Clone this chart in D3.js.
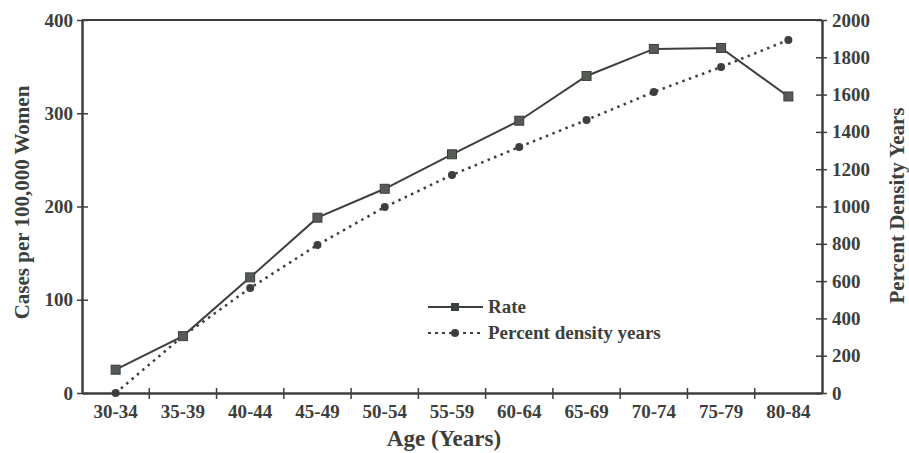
<!DOCTYPE html>
<meta charset="utf-8">
<script src="https://d3js.org/d3.v7.min.js"></script>
<style>
  body { margin: 0; background: #fff; }
  text { font-family: "Liberation Serif", "DejaVu Serif", serif; fill: #3c403c; }
</style>
<div id="my_dataviz"></div>
<script>

// data
var ages = ["30-34", "35-39", "40-44", "45-49", "50-54", "55-59", "60-64", "65-69", "70-74", "75-79", "80-84"];
var rate = [25, 61, 124, 188, 219, 256, 292, 340, 369, 370, 318];
var densityYears = [0, 305, 563, 794, 997, 1169, 1319, 1464, 1614, 1748, 1893];
var leftTicks = [0, 100, 200, 300, 400];
var rightTicks = [0, 200, 400, 600, 800, 1000, 1200, 1400, 1600, 1800, 2000];

var ink = "#3c403c";

var margin = {top: 20, right: 87, bottom: 60, left: 82},
    width = 909 - margin.left - margin.right,
    height = 453 - margin.top - margin.bottom;

var svg = d3.select("#my_dataviz")
  .append("svg")
    .attr("width", 909)
    .attr("height", 453)
  .append("g")
    .attr("transform", "translate(" + margin.left + "," + margin.top + ")");

var x = d3.scaleBand()
  .domain(ages)
  .range([0, width]);

var yL = d3.scaleLinear().domain([0, 400]).range([height, 0]);
var yR = d3.scaleLinear().domain([0, 2000]).range([height, 0]);

// frame top line
svg.append("line")
  .attr("x1", 0).attr("x2", width)
  .attr("y1", 0).attr("y2", 0)
  .attr("stroke", ink).attr("stroke-width", 2);

// left axis
var gl = svg.append("g")
  .call(d3.axisLeft(yL).tickValues(leftTicks).tickSize(0).tickPadding(9));
gl.select(".domain").attr("stroke", ink).attr("stroke-width", 2.5);
gl.selectAll(".tick line").remove();
gl.selectAll(".tick").append("line")
  .attr("x1", -5).attr("x2", 6).attr("stroke", ink).attr("stroke-width", 1.5);
gl.selectAll(".tick text")
  .style("font-size", "19px").style("font-weight", "bold").attr("fill", ink);

// right axis
var gr = svg.append("g")
  .attr("transform", "translate(" + width + ",0)")
  .call(d3.axisRight(yR).tickValues(rightTicks).tickFormat(d3.format("d")).tickSize(0).tickPadding(10));
gr.select(".domain").attr("stroke", ink).attr("stroke-width", 2.5);
gr.selectAll(".tick line").remove();
gr.selectAll(".tick").append("line")
  .attr("x1", -6).attr("x2", 5).attr("stroke", ink).attr("stroke-width", 1.5);
gr.selectAll(".tick text")
  .style("font-size", "19px").style("font-weight", "bold").attr("fill", ink);

// bottom axis
var gb = svg.append("g")
  .attr("transform", "translate(0," + height + ")")
  .call(d3.axisBottom(x).tickSize(0).tickPadding(12));
gb.select(".domain").attr("stroke", ink).attr("stroke-width", 2.5);
gb.selectAll(".tick text")
  .style("font-size", "19px").style("font-weight", "bold").attr("fill", ink);
// ticks between the categories
gb.selectAll(".sep")
  .data(ages.slice(1))
  .enter()
  .append("line")
    .attr("x1", function (d) { return x(d); })
    .attr("x2", function (d) { return x(d); })
    .attr("y1", -5).attr("y2", 6)
    .attr("stroke", ink).attr("stroke-width", 1.5);

// axis titles
svg.append("text")
  .attr("text-anchor", "middle")
  .attr("x", width / 2 - 8)
  .attr("y", height + 53)
  .style("font-size", "23px").style("font-weight", "bold")
  .text("Age (Years)");

svg.append("text")
  .attr("text-anchor", "middle")
  .attr("transform", "rotate(-90)")
  .attr("x", -height / 2 + 4)
  .attr("y", -margin.left + 29)
  .style("font-size", "21px").style("font-weight", "bold")
  .text("Cases per 100,000 Women");

svg.append("text")
  .attr("text-anchor", "middle")
  .attr("transform", "rotate(-90)")
  .attr("x", -height / 2 + 1)
  .attr("y", width + 82)
  .style("font-size", "21px").style("font-weight", "bold")
  .text("Percent Density Years");

var cx = function (d, i) { return x(ages[i]) + x.bandwidth() / 2; };

// percent density years line (dotted)
svg.append("path")
  .datum(densityYears)
  .attr("fill", "none")
  .attr("stroke", ink)
  .attr("stroke-width", 2.5)
  .attr("stroke-dasharray", "2.5,4.5")
  .attr("d", d3.line().x(cx).y(function (d) { return yR(d); }));

svg.append("g")
  .selectAll("circle")
  .data(densityYears)
  .enter()
  .append("circle")
    .attr("cx", cx)
    .attr("cy", function (d) { return yR(d); })
    .attr("r", 4)
    .attr("fill", ink);

// rate line
svg.append("path")
  .datum(rate)
  .attr("fill", "none")
  .attr("stroke", ink)
  .attr("stroke-width", 2)
  .attr("d", d3.line().x(cx).y(function (d) { return yL(d); }));

svg.append("g")
  .selectAll("rect")
  .data(rate)
  .enter()
  .append("rect")
    .attr("x", function (d, i) { return cx(d, i) - 4.5; })
    .attr("y", function (d) { return yL(d) - 4.5; })
    .attr("width", 9)
    .attr("height", 9)
    .attr("fill", "#555a55")
    .attr("stroke", ink)
    .attr("stroke-width", 1);

// legend
var lg = svg.append("g").attr("transform", "translate(346,287)");
lg.append("line").attr("x1", 0).attr("x2", 55).attr("y1", 0).attr("y2", 0)
  .attr("stroke", ink).attr("stroke-width", 2);
lg.append("rect").attr("x", 23).attr("y", -4).attr("width", 8).attr("height", 8).attr("fill", ink);
lg.append("text").attr("x", 60).attr("y", 6)
  .style("font-size", "19px").style("font-weight", "bold").text("Rate");

lg.append("line").attr("x1", 0).attr("x2", 55).attr("y1", 26).attr("y2", 26)
  .attr("stroke", ink).attr("stroke-width", 2).attr("stroke-dasharray", "3,4");
lg.append("circle").attr("cx", 27).attr("cy", 26).attr("r", 4).attr("fill", ink);
lg.append("text").attr("x", 60).attr("y", 32)
  .style("font-size", "19px").style("font-weight", "bold").text("Percent density years");

</script>
